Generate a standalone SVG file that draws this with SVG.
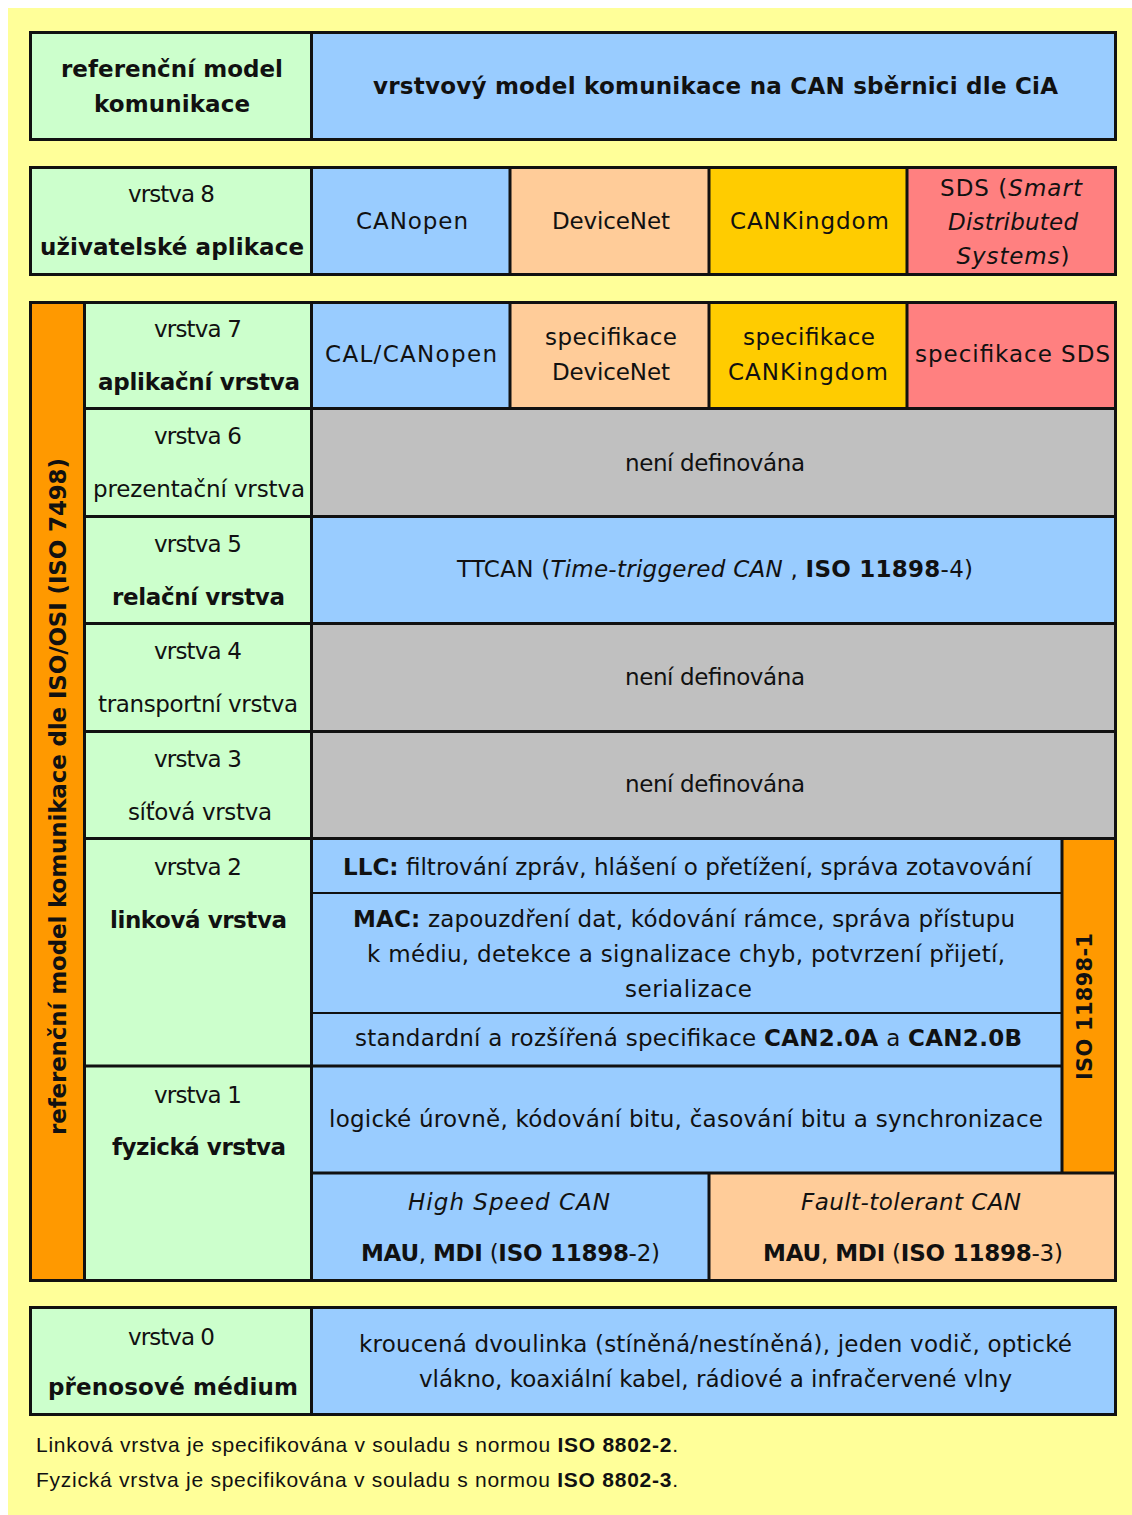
<svg xmlns="http://www.w3.org/2000/svg" width="1132" height="1515" viewBox="0 0 1132 1515">
<style>
.t{font-family:"DejaVu Sans","Liberation Sans",sans-serif;font-size:23px;fill:#111;text-anchor:middle}
.b{font-weight:bold}
.i{font-style:italic}
.n{font-weight:normal;font-style:normal}
.f{font-family:"Liberation Sans","DejaVu Sans",sans-serif;font-size:21px;fill:#111;text-anchor:start}
.green{fill:#CCFFCC}
.blue{fill:#99CCFF}
.peach{fill:#FFCC99}
.gold{fill:#FFCC00}
.red{fill:#FF8080}
.gray{fill:#C0C0C0}
.orange{fill:#FF9900}
.frame{fill:none;stroke:#111;stroke-width:3}
.ln{stroke:#111;stroke-width:3}
.thin{stroke:#111;stroke-width:2}
</style>
<rect x="0" y="0" width="1132" height="1515" fill="#ffffff"/>
<rect x="8" y="8" width="1124" height="1507" fill="#FFFF99"/>

<!-- header -->
<g id="hdr-ref">
<rect class="green" x="29" y="31" width="282" height="110"/>
<text class="t b" x="172" y="77" textLength="222">referenční model</text>
<text class="t b" x="172" y="112" textLength="156">komunikace</text>
</g>
<g id="hdr-title">
<rect class="blue" x="311" y="31" width="806" height="110"/>
<text class="t b" x="715.5" y="94" textLength="685">vrstvový model komunikace na CAN sběrnici dle CiA</text>
</g>

<!-- layer 8 -->
<g id="l8-label">
<rect class="green" x="29" y="166" width="282" height="110"/>
<text class="t" x="171.5" y="202" textLength="87">vrstva 8</text>
<text class="t b" x="172" y="255" textLength="264">uživatelské aplikace</text>
</g>
<g id="l8-canopen">
<rect class="blue" x="311" y="166" width="199" height="110"/>
<text class="t" x="412" y="229" textLength="112">CANopen</text>
</g>
<g id="l8-devicenet">
<rect class="peach" x="510" y="166" width="199" height="110"/>
<text class="t" x="611" y="229" textLength="118">DeviceNet</text>
</g>
<g id="l8-cankingdom">
<rect class="gold" x="709" y="166" width="198" height="110"/>
<text class="t" x="809.5" y="229" textLength="159">CANKingdom</text>
</g>
<g id="l8-sds">
<rect class="red" x="907" y="166" width="210" height="110"/>
<text class="t" x="1011" y="196" textLength="142">SDS (<tspan class="i">Smart</tspan></text>
<text class="t i" x="1013" y="230" textLength="130">Distributed</text>
<text class="t" x="1013" y="264" textLength="113"><tspan class="i">Systems</tspan>)</text>
</g>

<!-- big block -->
<g id="osi-bar">
<rect class="orange" x="29" y="301" width="55" height="981"/>
<text class="t b" transform="translate(66,796.5) rotate(-90)" x="0" y="0" textLength="677">referenční model komunikace dle ISO/OSI (ISO 7498)</text>
</g>
<rect class="green" x="84" y="301" width="227" height="981"/>

<g id="l7-label">
<text class="t" x="198" y="337" textLength="88">vrstva 7</text>
<text class="t b" x="199" y="390" textLength="202">aplikační vrstva</text>
</g>
<g id="l7-cal">
<rect class="blue" x="311" y="301" width="199" height="107"/>
<text class="t" x="411" y="362" textLength="172">CAL/CANopen</text>
</g>
<g id="l7-devicenet">
<rect class="peach" x="510" y="301" width="199" height="107"/>
<text class="t" x="611" y="345" textLength="132">specifikace</text>
<text class="t" x="611" y="380" textLength="118">DeviceNet</text>
</g>
<g id="l7-cankingdom">
<rect class="gold" x="709" y="301" width="198" height="107"/>
<text class="t" x="809" y="345" textLength="132">specifikace</text>
<text class="t" x="808" y="380" textLength="160">CANKingdom</text>
</g>
<g id="l7-sds">
<rect class="red" x="907" y="301" width="210" height="107"/>
<text class="t" x="1012.5" y="362" textLength="195">specifikace SDS</text>
</g>

<g id="l6-label">
<text class="t" x="198" y="444" textLength="88">vrstva 6</text>
<text class="t" x="199" y="497" textLength="212">prezentační vrstva</text>
</g>
<g id="l6-content">
<rect class="gray" x="311" y="408" width="806" height="108"/>
<text class="t" x="715" y="471" textLength="180">není definována</text>
</g>

<g id="l5-label">
<text class="t" x="198" y="552" textLength="88">vrstva 5</text>
<text class="t b" x="198.5" y="605" textLength="173">relační vrstva</text>
</g>
<g id="l5-content">
<rect class="blue" x="311" y="516" width="806" height="107"/>
<text class="t" x="715" y="577" textLength="516">TTCAN (<tspan class="i">Time-triggered CAN</tspan> , <tspan class="b">ISO 11898</tspan>-4)</text>
</g>

<g id="l4-label">
<text class="t" x="198" y="659" textLength="88">vrstva 4</text>
<text class="t" x="198" y="712" textLength="200">transportní vrstva</text>
</g>
<g id="l4-content">
<rect class="gray" x="311" y="623" width="806" height="108"/>
<text class="t" x="715" y="685" textLength="180">není definována</text>
</g>

<g id="l3-label">
<text class="t" x="198" y="767" textLength="88">vrstva 3</text>
<text class="t" x="200" y="820" textLength="144">síťová vrstva</text>
</g>
<g id="l3-content">
<rect class="gray" x="311" y="731" width="806" height="107"/>
<text class="t" x="715" y="792" textLength="180">není definována</text>
</g>

<g id="l2-label">
<text class="t" x="198" y="875" textLength="88">vrstva 2</text>
<text class="t b" x="198.5" y="928" textLength="177">linková vrstva</text>
</g>
<g id="l2-llc">
<rect class="blue" x="311" y="838" width="751" height="55"/>
<text class="t" x="687.5" y="875" textLength="689"><tspan class="b">LLC:</tspan> filtrování zpráv, hlášení o přetížení, správa zotavování</text>
</g>
<g id="l2-mac">
<rect class="blue" x="311" y="893" width="751" height="120"/>
<text class="t" x="684" y="927" textLength="662"><tspan class="b">MAC:</tspan> zapouzdření dat, kódování rámce, správa přístupu</text>
<text class="t" x="686" y="962" textLength="638">k médiu, detekce a signalizace chyb, potvrzení přijetí,</text>
<text class="t" x="688.5" y="997" textLength="127">serializace</text>
</g>
<g id="l2-std">
<rect class="blue" x="311" y="1013" width="751" height="53"/>
<text class="t" x="688.5" y="1046" textLength="667">standardní a rozšířená specifikace <tspan class="b">CAN2.0A</tspan> a <tspan class="b">CAN2.0B</tspan></text>
</g>
<g id="iso11898-1">
<rect class="orange" x="1062" y="838" width="55" height="335"/>
<text class="t b" style="font-size:21px" transform="translate(1092,1006.5) rotate(-90)" x="0" y="0" textLength="147">ISO 11898-1</text>
</g>

<g id="l1-label">
<text class="t" x="198" y="1103" textLength="88">vrstva 1</text>
<text class="t b" x="199" y="1155" textLength="174">fyzická vrstva</text>
</g>
<g id="l1-logic">
<rect class="blue" x="311" y="1066" width="751" height="107"/>
<text class="t" x="686" y="1127" textLength="714">logické úrovně, kódování bitu, časování bitu a synchronizace</text>
</g>
<g id="l1-highspeed">
<rect class="blue" x="311" y="1173" width="398" height="109"/>
<text class="t i" x="509" y="1210" textLength="202">High Speed CAN</text>
<text class="t" x="510.5" y="1261" textLength="299"><tspan class="b">MAU</tspan>, <tspan class="b">MDI</tspan> (<tspan class="b">ISO 11898</tspan>-2)</text>
</g>
<g id="l1-faulttolerant">
<rect class="peach" x="709" y="1173" width="408" height="109"/>
<text class="t i" x="911" y="1210" textLength="220">Fault-tolerant CAN</text>
<text class="t" x="913" y="1261" textLength="300"><tspan class="b">MAU</tspan>, <tspan class="b">MDI</tspan> (<tspan class="b">ISO 11898</tspan>-3)</text>
</g>

<!-- layer 0 -->
<g id="l0-label">
<rect class="green" x="29" y="1306" width="282" height="110"/>
<text class="t" x="171.5" y="1345" textLength="87">vrstva 0</text>
<text class="t b" x="173" y="1395" textLength="250">přenosové médium</text>
</g>
<g id="l0-content">
<rect class="blue" x="311" y="1306" width="806" height="110"/>
<text class="t" x="715.5" y="1352" textLength="713">kroucená dvoulinka (stíněná/nestíněná), jeden vodič, optické</text>
<text class="t" x="715.5" y="1387" textLength="593">vlákno, koaxiální kabel, rádiové a infračervené vlny</text>
</g>

<!-- grid lines -->
<g id="connectors">
<rect class="frame" x="30.5" y="32.5" width="1085" height="107"/>
<line class="ln" x1="311.5" y1="32.5" x2="311.5" y2="139.5"/>

<rect class="frame" x="30.5" y="167.5" width="1085" height="107"/>
<line class="ln" x1="311.5" y1="167.5" x2="311.5" y2="274.5"/>
<line class="ln" x1="510" y1="167.5" x2="510" y2="274.5"/>
<line class="ln" x1="709" y1="167.5" x2="709" y2="274.5"/>
<line class="ln" x1="907" y1="167.5" x2="907" y2="274.5"/>

<rect class="frame" x="30.5" y="302.5" width="1085" height="978"/>
<line class="ln" x1="84.5" y1="302.5" x2="84.5" y2="1280.5"/>
<line class="ln" x1="311.5" y1="302.5" x2="311.5" y2="1280.5"/>
<line class="ln" x1="510" y1="302.5" x2="510" y2="408.5"/>
<line class="ln" x1="709" y1="302.5" x2="709" y2="408.5"/>
<line class="ln" x1="907" y1="302.5" x2="907" y2="408.5"/>
<line class="ln" x1="84.5" y1="408.5" x2="1115.5" y2="408.5"/>
<line class="ln" x1="84.5" y1="516.5" x2="1115.5" y2="516.5"/>
<line class="ln" x1="84.5" y1="623.5" x2="1115.5" y2="623.5"/>
<line class="ln" x1="84.5" y1="731.5" x2="1115.5" y2="731.5"/>
<line class="ln" x1="84.5" y1="838.5" x2="1115.5" y2="838.5"/>
<line class="thin" x1="311.5" y1="893" x2="1062" y2="893"/>
<line class="thin" x1="311.5" y1="1013" x2="1062" y2="1013"/>
<line class="ln" x1="84.5" y1="1066" x2="1062" y2="1066"/>
<line class="ln" x1="1062" y1="838.5" x2="1062" y2="1173"/>
<line class="ln" x1="311.5" y1="1173" x2="1115.5" y2="1173"/>
<line class="ln" x1="709" y1="1173" x2="709" y2="1280.5"/>

<rect class="frame" x="30.5" y="1307.5" width="1085" height="107"/>
<line class="ln" x1="311.5" y1="1307.5" x2="311.5" y2="1414.5"/>
</g>

<!-- footer -->
<g id="footer">
<text class="f" x="36" y="1452" textLength="642">Linková vrstva je specifikována v souladu s normou <tspan font-weight="bold">ISO 8802-2</tspan>.</text>
<text class="f" x="36" y="1487" textLength="642">Fyzická vrstva je specifikována v souladu s normou <tspan font-weight="bold">ISO 8802-3</tspan>.</text>
</g>
</svg>
